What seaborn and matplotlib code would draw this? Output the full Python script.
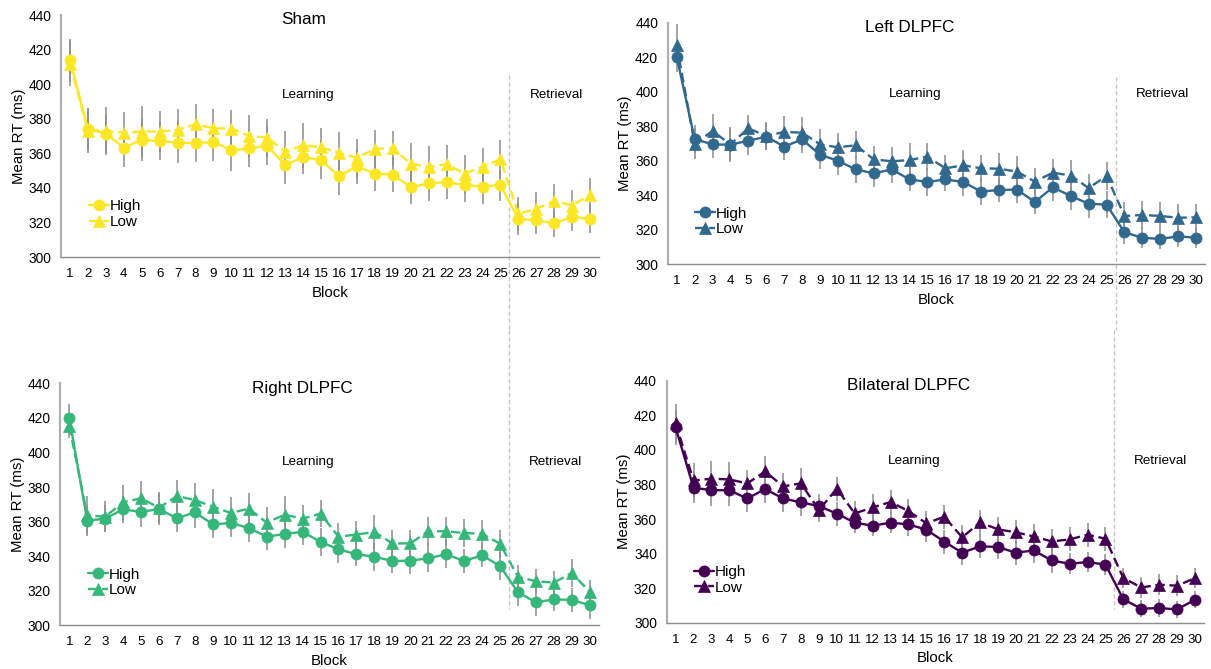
import numpy as np
import pandas as pd
import matplotlib
matplotlib.use("Agg")
import matplotlib.pyplot as plt
import seaborn as sns

# ---------------- data ----------------
blocks = list(range(1, 31))

sham_high = [414, 374, 371.4, 363.2, 367.8, 367, 366.2, 365.9, 366.6, 361.8,
             362.8, 364.5, 353.1, 357.8, 356, 346.8, 352.4, 348.3, 347.6, 340.4,
             342.6, 343.3, 341.6, 340.8, 341.6, 322, 321.4, 319.4, 323.3, 322.1]
sham_low = [411.7, 373.2, 373, 372, 372.6, 372.6, 373.6, 376.8, 374.5, 374.3,
            370, 369.1, 361, 364.7, 363.4, 360.3, 357.4, 362.6, 362.8, 354,
            352, 353.7, 348.3, 352.2, 356.6, 325, 327.9, 332.5, 329.8, 336]
sham_high_err = [12, 12, 11, 11, 12, 11, 12, 11, 11, 12, 11, 11, 11, 10, 11,
                 11, 10, 10, 10, 10, 10, 10, 10, 10, 9, 9, 8, 8, 8, 8]
sham_low_err = [13, 13, 14, 12, 15, 12, 12, 12, 11, 11, 12, 11, 12, 13, 11,
                12, 11, 11, 10, 12, 12, 11, 11, 11, 11, 10, 10, 10, 9, 10]

left_high = [420.3, 372.6, 369.5, 369.3, 371.6, 374, 368.2, 372.4, 363.5, 360,
             355, 352.7, 355, 349.2, 347.7, 349.2, 347.7, 342.1, 343.1, 343.3,
             336.1, 344.6, 339.6, 335.1, 334.6, 318.5, 315.4, 314.7, 316.2, 315.4]
left_low = [427, 369.9, 377.2, 369.5, 378.8, 374.3, 376.7, 376.3, 369.5, 367.8,
            369, 360.8, 359.7, 360.4, 362.4, 355.6, 357.4, 355.6, 355.4, 353.7,
            347.9, 353.1, 351.4, 344.2, 351.2, 328, 328.6, 328, 327, 327.2]
left_high_err = [9, 8, 8, 9, 8, 8, 8, 8, 8, 8, 8, 8, 8, 7, 8,
                 7, 8, 8, 7, 8, 7, 8, 8, 8, 8, 7, 6, 6, 6, 6]
left_low_err = [12, 9, 10, 10, 8, 8, 9, 9, 9, 8, 8, 8, 8, 10, 8,
                8, 9, 8, 9, 9, 8, 8, 9, 8, 8, 8, 8, 8, 8, 8]

right_high = [420, 360.6, 361.7, 367.1, 365.6, 367.3, 361.9, 365.4, 358.4, 359.2,
              356.3, 351.3, 352.8, 354.2, 348.2, 344, 341.1, 339.7, 337.2, 337.4,
              338.8, 341.1, 337.2, 340.5, 334.3, 319.1, 313.3, 315, 314.7, 311.6]
right_low = [415.3, 363.6, 362.8, 371.2, 373.5, 368, 374.8, 372.5, 368.6, 365,
             367.5, 359.4, 364, 361.7, 364.6, 351.3, 352.5, 354, 347.4, 347.4,
             354.4, 354.4, 353.4, 353, 347.2, 328, 325.5, 324.7, 330.3, 319.3]
right_high_err = [8, 9, 8, 8, 9, 9, 8, 9, 8, 8, 8, 8, 8, 8, 8,
                  8, 7, 8, 7, 8, 8, 8, 7, 7, 8, 8, 8, 7, 7, 8]
right_low_err = [7, 11, 9, 10, 10, 9, 9, 10, 10, 9, 9, 9, 11, 8, 8,
                 8, 8, 10, 8, 8, 8, 8, 8, 8, 8, 7, 7, 7, 8, 7]

bil_high = [413, 378.1, 376.7, 376.6, 371.9, 377.3, 371.9, 369.6, 367.5, 363.1,
            357.9, 356.1, 357.9, 356.9, 353.8, 346.9, 340.5, 344.2, 343.8, 340.5,
            341.8, 336, 334.1, 335.1, 333.6, 313.5, 308.1, 308.5, 307.7, 313.3]
bil_low = [415.3, 382.3, 383.3, 382.9, 380.6, 387.5, 378.9, 380.6, 365.2, 377.5,
           363.2, 366.7, 369.8, 364.6, 357.5, 361.3, 349.4, 358, 354, 352.3,
           349.9, 347, 348.2, 350.9, 348.6, 325.8, 320.4, 322, 321.4, 325.8]
bil_high_err = [10, 9, 9, 9, 8, 8, 8, 8, 7, 7, 6, 6, 6, 7, 7,
                7, 7, 7, 7, 7, 7, 7, 6, 6, 6, 5, 5, 5, 5, 5]
bil_low_err = [11, 10, 10, 10, 8, 9, 8, 9, 7, 7, 7, 8, 7, 7, 7,
               7, 7, 7, 7, 7, 7, 7, 7, 7, 7, 6, 6, 6, 6, 6]

titles = ["Sham", "Left DLPFC", "Right DLPFC", "Bilateral DLPFC"]
colors = ["#FDE725", "#31688E", "#35B779", "#440154"]
y_ticks = [300, 320, 340, 360, 380, 400, 420, 440]

# ---------------- style ----------------
sns.set_style("white")
plt.rcParams["font.family"] = ["Liberation Sans", "DejaVu Sans"]
plt.rcParams["text.color"] = "black"
plt.rcParams["axes.labelcolor"] = "black"
plt.rcParams["xtick.labelcolor"] = "black"
plt.rcParams["ytick.labelcolor"] = "black"

fig = plt.figure(figsize=(12.11, 6.69), dpi=100)

axes_rects = [
    [0.0504, 0.6158, 0.4443, 0.3617],
    [0.5514, 0.6049, 0.4437, 0.3612],
    [0.0498, 0.0653, 0.4446, 0.3617],
    [0.5505, 0.0692, 0.4437, 0.3617],
]
# region annotation positions (data y) and divider extents (data y)
learn_y = [393.7, 398.4, 394.5, 393.3]
divider = [(405.3, 257.8), (408.7, 261.9), (470.7, 309.4), (469.2, 307.9)]

series = [
    (sham_high, sham_low, sham_high_err, sham_low_err),
    (left_high, left_low, left_high_err, left_low_err),
    (right_high, right_low, right_high_err, right_low_err),
    (bil_high, bil_low, bil_high_err, bil_low_err),
]

grey = "#8c8c8c"
for i, (rect, (hi, lo, hie, loe)) in enumerate(zip(axes_rects, series)):
    ax = fig.add_axes(rect)
    c = colors[i]
    df = pd.DataFrame({
        "Block": blocks + blocks,
        "RT": hi + lo,
        "Cond": ["High"] * 30 + ["Low"] * 30,
    })
    ax.errorbar(blocks, hi, yerr=hie, fmt="none", ecolor=grey, elinewidth=1.1, zorder=1)
    ax.errorbar(blocks, lo, yerr=loe, fmt="none", ecolor=grey, elinewidth=1.1, zorder=1)
    sns.lineplot(data=df, x="Block", y="RT", style="Cond",
                 markers={"High": "o", "Low": "^"},
                 dashes={"High": "", "Low": (4, 2)},
                 color=c, markersize=8, markeredgecolor=c, markeredgewidth=0.5,
                 linewidth=1.7, ax=ax, zorder=3, legend=True)

    ax.set_xlim(0.5, 30.5)
    ax.set_ylim(300, 440)
    ax.set_yticks(y_ticks)
    ax.set_xticks(blocks)
    ax.set_xticklabels([str(b) for b in blocks], fontsize=9.6)
    ax.set_xticks(np.arange(0.5, 31, 1), minor=True)
    ax.tick_params(axis="x", which="major", length=0, pad=8)
    ax.tick_params(axis="x", which="minor", length=5, width=1, color=grey, direction="out")
    ax.tick_params(axis="y", which="major", length=5, width=1, color=grey,
                   direction="out", labelsize=9.9, pad=2)
    for s in ["top", "right"]:
        ax.spines[s].set_visible(False)
    ax.spines["left"].set_color("#b0b0b0")
    ax.spines["left"].set_linewidth(1.6)
    ax.spines["bottom"].set_color(grey)
    ax.spines["bottom"].set_linewidth(1.0)
    ax.set_xlabel("Block", fontsize=10.8, labelpad=4)
    ax.set_ylabel("Mean RT (ms)", fontsize=10.8, labelpad=2)

    ax.text(14.0, 437.2, titles[i], ha="center", va="center", fontsize=12.3)
    ax.text(14.3, learn_y[i], "Learning", ha="center", va="center", fontsize=9.7)
    ax.text(28.1, learn_y[i], "Retrieval", ha="center", va="center", fontsize=9.7)

    ax.plot([25.5, 25.5], list(divider[i]), ls=(0, (3, 2)), color="#c4c4c4",
            lw=1.0, clip_on=False, zorder=0)

    handles, labels = ax.get_legend_handles_labels()
    ax.legend(handles, labels, loc="lower left", bbox_to_anchor=(0.04, 0.09),
              frameon=False, fontsize=11, handlelength=1.3, handletextpad=0.05,
              labelspacing=0.12, borderaxespad=0)

fig.savefig("out.png", dpi=100)
